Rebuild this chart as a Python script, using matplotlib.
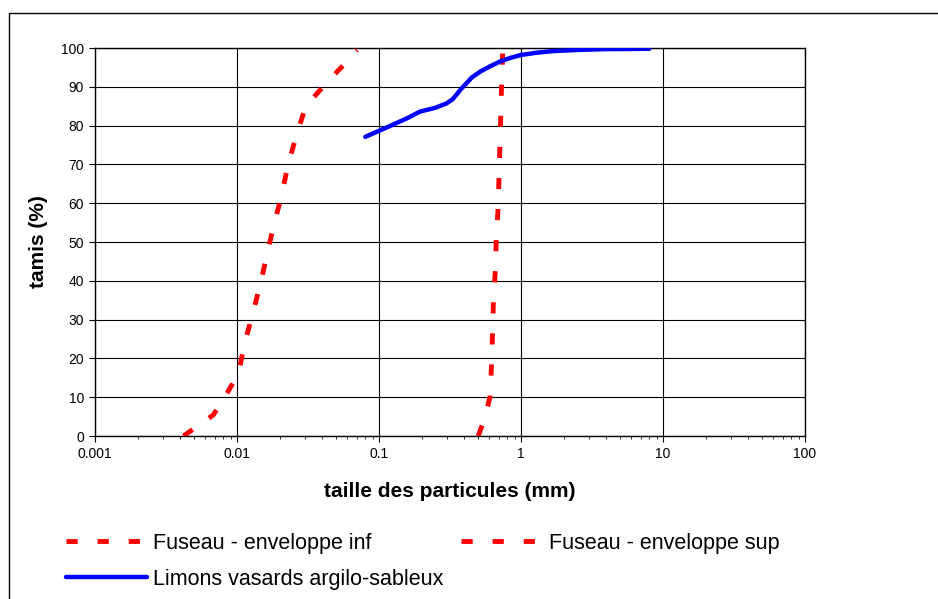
import matplotlib.pyplot as plt
from matplotlib.lines import Line2D
from matplotlib.patches import Rectangle
from matplotlib.ticker import LogLocator, FixedLocator, NullFormatter

plt.rcParams['font.family'] = ['Liberation Sans', 'DejaVu Sans']

# ---------------- data ----------------
inf_d = [0.0042, 0.0068, 0.0085, 0.0102, 0.0114, 0.013, 0.0147, 0.0164, 0.0184,
         0.0203, 0.0226, 0.0259, 0.0305, 0.0424, 0.06, 0.07]
inf_p = [0, 5.4, 11, 16, 24.3, 32, 39.6, 47.4, 55.2, 61, 69, 76.9, 85, 90.9, 96.7, 99.5]

sup_d = [0.5, 0.56, 0.605, 0.622, 0.63, 0.64, 0.66, 0.67, 0.69, 0.70, 0.71, 0.72, 0.73, 0.745]
sup_p = [0, 5, 10.1, 19.2, 26.9, 35, 42.8, 51, 58.8, 66.8, 74.6, 82.5, 90.5, 100]

lim_d = [0.08, 0.113, 0.16, 0.194, 0.25, 0.298, 0.33, 0.38, 0.45, 0.515, 0.6,
         0.71, 0.85, 1.0, 1.3, 1.68, 2.5, 3.8, 8.0]
lim_p = [77.1, 79.5, 82.0, 83.6, 84.6, 85.7, 86.8, 89.5, 92.4, 93.9, 95.2,
         96.5, 97.5, 98.2, 98.8, 99.2, 99.5, 99.7, 99.8]

xticks = [0.001, 0.01, 0.1, 1, 10, 100]
xlabels = ['0.001', '0.01', '0.1', '1', '10', '100']
yticks = list(range(0, 101, 10))

fig = plt.figure(figsize=(9.38, 5.99), dpi=100)
ax = fig.add_axes([95/938, 1-436/599, 710/938, 388/599])

# outer chart border (right/bottom fall outside the picture)
fig.patches.append(Rectangle((9/938, -0.1), 1.2, 1 - 13/599 + 0.1,
                             transform=fig.transFigure, fill=False,
                             edgecolor='black', lw=1.0, zorder=0))

red_kw = dict(color='#ff0000', lw=3.5, dashes=(2.3, 4.1), dash_capstyle='butt')
ax.plot(inf_d, inf_p, **red_kw, zorder=3)
ax.plot(sup_d, sup_p, **red_kw, zorder=3)
ax.plot(lim_d, lim_p, color='#0000ff', lw=3.2, solid_capstyle='round',
        solid_joinstyle='round', zorder=4)

ax.set_xscale('log')
ax.set_xlim(0.001, 100)
ax.set_ylim(0, 100)
ax.xaxis.set_major_locator(FixedLocator(xticks))
ax.set_xticks(xticks)
ax.set_xticklabels(xlabels)
ax.xaxis.set_minor_locator(LogLocator(base=10, subs=range(2, 10)))
ax.xaxis.set_minor_formatter(NullFormatter())
ax.set_yticks(yticks)
ax.grid(True, which='major', color='black', lw=0.8)
ax.tick_params(axis='both', which='major', labelsize=10, direction='out', length=4, width=0.8, pad=4)
ax.tick_params(axis='x', which='minor', direction='out', length=2.5, width=0.6)
for s in ax.spines.values():
    s.set_linewidth(1.0)

ax.set_xlabel('taille des particules (mm)', fontsize=15, fontweight='bold', labelpad=15)
ax.set_ylabel('tamis (%)', fontsize=15, fontweight='bold', labelpad=9)

h_inf = Line2D([], [], **red_kw)
h_sup = Line2D([], [], **red_kw)
h_lim = Line2D([], [], color='#0000ff', lw=3.2, solid_capstyle='round')
fig.legend([h_inf, h_lim, h_sup],
           ['Fuseau - enveloppe inf', 'Limons vasards argilo-sableux', 'Fuseau - enveloppe sup'],
           ncol=2, loc='upper left', bbox_to_anchor=(57/938, 1-524/599),
           frameon=False, fontsize=15.5, handlelength=3.8, handletextpad=0.25,
           columnspacing=0.85, labelspacing=0.7, borderaxespad=0)

fig.savefig('out.png', dpi=100)
